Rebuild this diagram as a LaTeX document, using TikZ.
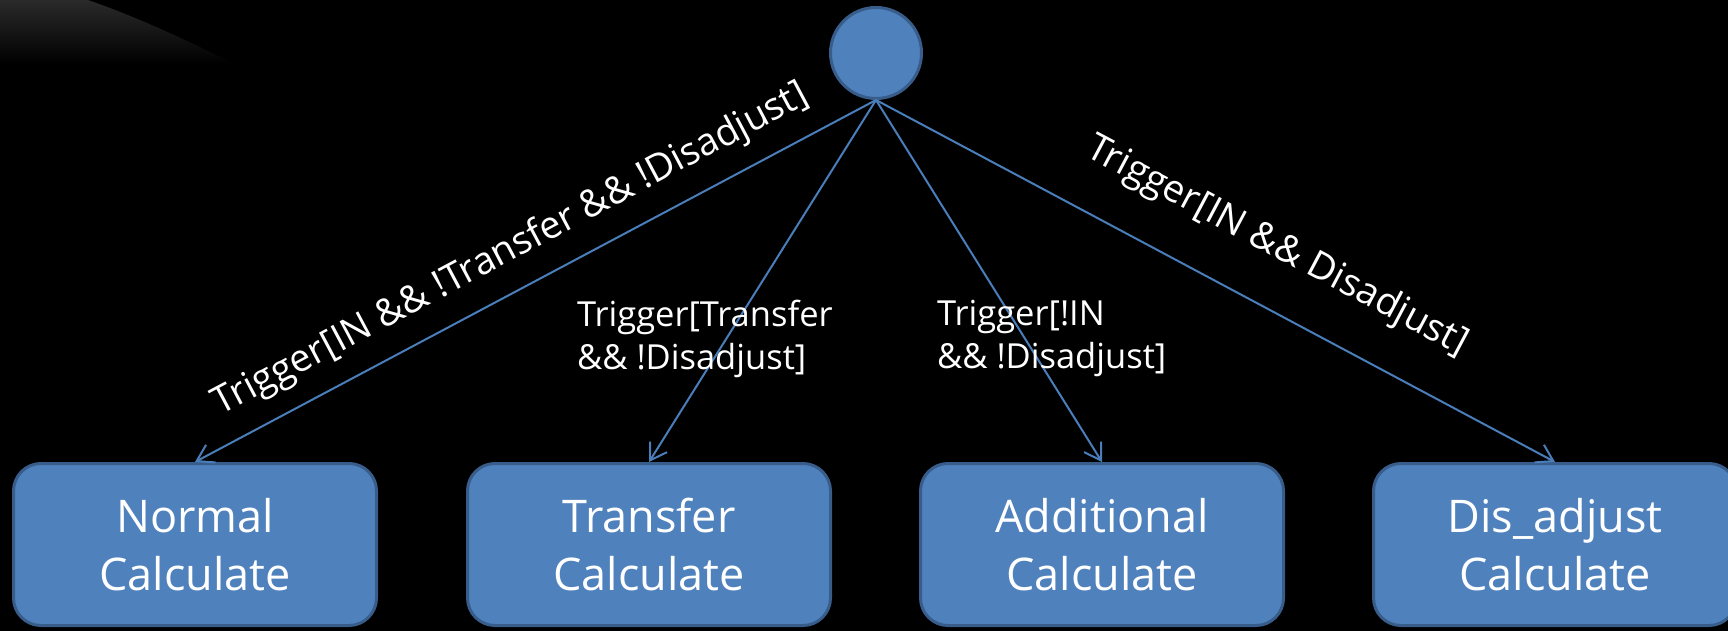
\documentclass[tikz,border=0pt]{standalone}
\usepackage{fontspec}
\setmainfont{Open Sans}
\usetikzlibrary{arrows.meta}
\definecolor{boxfill}{HTML}{4F81BD}
\definecolor{boxline}{HTML}{385D8A}
\definecolor{arrowc}{HTML}{4A7EBB}
\definecolor{glow}{RGB}{42,42,42}
\tikzset{
  calcbox/.style={rectangle, rounded corners=27.5pt, fill=boxfill, draw=boxline,
    line width=3pt, minimum width=363pt, minimum height=162pt, inner sep=0pt,
    text=white, align=center, font=\fontsize{45}{58}\selectfont},
  startnode/.style={circle, fill=boxfill, draw=boxline, line width=3pt,
    minimum size=91pt, inner sep=0pt},
  conn/.style={draw=arrowc, line width=2pt, -{Straight Barb[length=16pt,width=20pt]}},
  lbl/.style={text=white, inner sep=0pt, font=\fontsize{34.5}{43}\selectfont},
  rlbl/.style={lbl, font=\fontsize{38}{46}\selectfont},
  mlbl/.style={lbl, align=left, anchor=north west}
}
\begin{document}
\begin{tikzpicture}[x=1pt,y=-1pt]
  \useasboundingbox (0,0) rectangle (1728,631);
  \clip (0,0) rectangle (1728,631);
  \fill[black] (0,0) rectangle (1728,631);
  \shade[top color=glow, bottom color=black]
    (0,0) -- (88,0) .. controls (140,18) and (190,42) .. (235,64) -- (0,64) -- cycle;

  \node[startnode] (start) at (876,53) {};

  \node[calcbox] (normal)   at (195,544.5)  {Normal\\Calculate};
  \node[calcbox] (transfer) at (649,544.5)  {Transfer\\Calculate};
  \node[calcbox] (addit)    at (1102,544.5) {Additional\\Calculate};
  \node[calcbox] (disadj)   at (1555,544.5) {Dis\_adjust\\Calculate};

  \draw[conn] (start.south) -- (normal.north);
  \draw[conn] (start.south) -- (transfer.north);
  \draw[conn] (start.south) -- (addit.north);
  \draw[conn] (start.south) -- (disadj.north);

  \node[rlbl, rotate=28]  (lblnormal) at (511,250) {Trigger[IN \&\& !Transfer \&\& !Disadjust]};
  \node[rlbl, rotate=-28] (lbldis)    at (1277,247) {Trigger[IN \&\& Disadjust]};
  \node[mlbl] (lbltransfer) at (577,300) {Trigger[Transfer\\\&\& !Disadjust]};
  \node[mlbl] (lbladd)      at (937,300) {Trigger[!IN\\\&\& !Disadjust]};
\end{tikzpicture}
\end{document}
